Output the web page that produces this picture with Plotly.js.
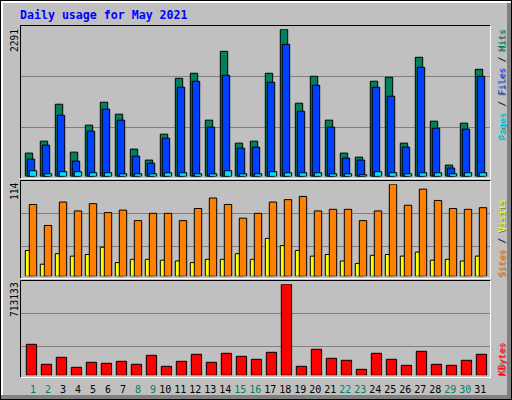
<!DOCTYPE html>
<html>
<head>
<meta charset="utf-8">
<script src="https://cdn.plot.ly/plotly-3.0.1.min.js"></script>
<style>html,body{margin:0;padding:0;background:#C0C0C0;}#chart{width:512px;height:400px;}</style>
</head>
<body>
<div id="chart"></div>
<script>
// ---- data ----
const chartTitle = "Daily usage for May 2021";
const days = [1,2,3,4,5,6,7,8,9,10,11,12,13,14,15,16,17,18,19,20,21,22,23,24,25,26,27,28,29,30,31];
const hits = [363,549,1124,378,798,1155,969,425,254,658,1528,1606,876,1948,518,549,1606,2291,1140,1559,876,363,300,1482,1544,518,1855,860,176,829,1668];
const files = [269,487,953,238,705,1047,876,316,207,596,1389,1482,767,1575,440,456,1466,2057,1015,1420,767,285,254,1389,1249,456,1699,751,130,736,1559];
const pages = [88,41,73,73,57,57,41,41,41,57,57,41,41,88,41,41,73,57,57,57,41,41,26,73,57,41,57,57,41,57,57];
const sites = [89,63,92,81,90,79,82,69,78,78,69,84,97,89,72,78,92,95,99,81,83,83,69,81,114,88,108,94,84,83,85];
const visits = [32,15,28,25,27,36,17,21,21,20,19,17,21,21,28,21,47,38,32,25,27,19,16,26,27,25,30,20,21,19,25];
const kbytes = [242900,86200,141050,62690,101870,94030,109700,86200,156720,70520,109700,164560,101870,172390,148880,125380,180230,713133,70520,203740,133210,117540,47020,172390,125380,78360,188060,86200,78360,117540,164560];
const weekendDays = [1,2,8,9,15,16,22,23,29,30];

// ---- colours ----
const C = {hits:'#00805C', files:'#0040FF', pages:'#00E0FF', sites:'#FF8000', visits:'#FFFF00', kbytes:'#FF0000', bg:'#C0C0C0', grid:'#808080'};

const W = 512, H = 400;
const px = x => x / W;
const py = y => 1 - y / H;

const maxHits = Math.max(...hits), maxSites = Math.max(...sites), maxKB = Math.max(...kbytes);

const ow = 0.493;   // bar width in day units
function bar(vals, color, axis, offset, width) {
  return {type:'bar', x: days, y: vals, xaxis:'x', yaxis: axis,
    offset: offset, width: width,
    marker:{color: color, line:{color:'#000', width:1}},
    hoverinfo:'skip', showlegend:false};
}
const traces = [
  bar(hits, C.hits, 'y', -0.333, ow),
  bar(files, C.files, 'y', -0.2, ow),
  bar(pages, C.pages, 'y', -0.0667, ow),
  bar(visits, C.visits, 'y2', -0.333, ow),
  bar(sites, C.sites, 'y2', -0.0667, ow),
  bar(kbytes, C.kbytes, 'y3', -0.267, 0.687)
];

const tickvals = days.map(d => d < 10 ? d + 0.18 : d);
const ticktext = days.map(d => weekendDays.includes(d) ? '<span style="color:' + C.hits + '">' + d + '</span>' : String(d));

const hid = {showgrid:false, zeroline:false, showticklabels:false, showline:false, ticks:'', fixedrange:true};

const shapes = [];
function line(x0,y0,x1,y1,color,w){ shapes.push({type:'line', xref:'paper', yref:'paper', x0:px(x0), y0:py(y0), x1:px(x1), y1:py(y1), line:{color:color, width:w||1}, layer:'below'}); }
function rect(x0,y0,x1,y1,color){ shapes.push({type:'rect', xref:'paper', yref:'paper', x0:px(x0), y0:py(y0), x1:px(x1), y1:py(y1), fillcolor:color, line:{width:0}, layer:'below'}); }

// outer bevel
rect(0,395,512,400,'#808080');
rect(507,0,512,400,'#808080');
rect(0,0,512,3,'#FFFFFF');
rect(0,0,3,395,'#FFFFFF');
line(0,0.5,512,0.5,'#000');
line(0.5,0,0.5,400,'#000');
line(0,399.5,512,399.5,'#000');
line(511.5,0,511.5,400,'#000');

// panels: [top, bottom]
const panels = [[25.5,178.5],[180.5,278.5],[280.5,377.5]];
const grids = [[76.5,127.5],[213.5,246.5],[313.5,346.5]];
grids.forEach(g => g.forEach(y => line(21,y,490,y,C.grid)));
panels.forEach(p => {
  line(20.5,p[0],490.5,p[0],'#000');
  line(20.5,p[0],20.5,p[1],'#000');
  line(20.5,p[1],490.5,p[1],'#FFFFFF');
  line(490.5,p[0],490.5,p[1],'#FFFFFF');
});

const mono = 'DejaVu Sans Mono, monospace';
const annotations = [];
annotations.push({text:'<b>' + chartTitle + '</b>', xref:'paper', yref:'paper', x:px(19), y:py(15), xanchor:'left', yanchor:'middle', showarrow:false, borderpad:0, font:{family:mono, size:11.6, color:'#0000FF'}});
function leftLabel(txt, top){
  annotations.push({text:txt, xref:'paper', yref:'paper', x:px(14.5), y:py(top), xanchor:'center', yanchor:'top', textangle:-90, showarrow:false, borderpad:0, font:{family:mono, size:9.6, color:'#000'}});
}
leftLabel(String(maxHits), 28);
leftLabel(String(maxSites), 181.5);
leftLabel(String(maxKB), 281);

function sp(t,c){ return '<span style="color:' + c + '">' + t + '</span>'; }
function rightLabel(parts, top){
  const plain = parts.map(p => p[0]).join(' / ');
  const colored = parts.map(p => sp(p[0], p[1])).join(' / ');
  annotations.push({text:plain, xref:'paper', yref:'paper', x:px(501), y:py(top), xanchor:'center', yanchor:'top', xshift:1, yshift:-1, textangle:-90, showarrow:false, borderpad:0, font:{family:mono, size:9.2, color:'#707070'}});
  annotations.push({text:colored, xref:'paper', yref:'paper', x:px(501), y:py(top), xanchor:'center', yanchor:'top', textangle:-90, showarrow:false, borderpad:0, font:{family:mono, size:9.2, color:'#000'}});
}
rightLabel([['Pages',C.pages],['Files',C.files],['Hits',C.hits]], 28);
rightLabel([['Sites',C.sites],['Visits',C.visits]], 199);
rightLabel([['KBytes',C.kbytes]], 342);

const layout = {
  width: W, height: H,
  margin:{l:0,r:0,t:0,b:0,pad:0},
  paper_bgcolor: C.bg, plot_bgcolor:'rgba(0,0,0,0)',
  barmode:'overlay', showlegend:false,
  xaxis:{domain:[px(20), px(491)], range:[0.3133, 31.713], anchor:'y3',
    tickmode:'array', tickvals: tickvals, ticktext: ticktext,
    ticks:'outside', ticklen:5, tickcolor:'rgba(0,0,0,0)',
    showgrid:false, zeroline:false, showline:false, fixedrange:true,
    tickfont:{family:mono, size:10, color:'#000'}},
  yaxis: Object.assign({domain:[py(176.4), py(29.3)], range:[0, maxHits]}, hid),
  yaxis2: Object.assign({domain:[py(276.3), py(184.3)], range:[0, maxSites]}, hid),
  yaxis3: Object.assign({domain:[py(375.3), py(284.3)], range:[0, maxKB]}, hid),
  shapes: shapes,
  annotations: annotations
};

Plotly.newPlot('chart', traces, layout, {staticPlot:true, displayModeBar:false});
</script>
</body>
</html>
